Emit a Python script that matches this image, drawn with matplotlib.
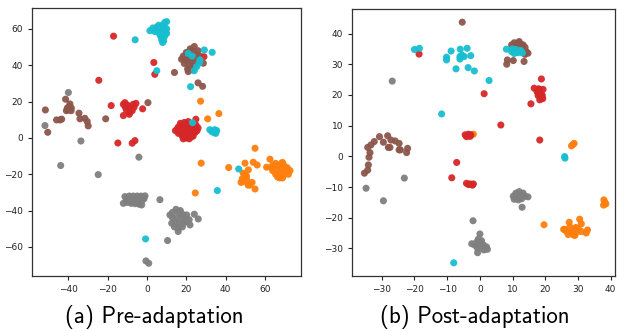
import matplotlib
matplotlib.use("Agg")
import matplotlib.pyplot as plt

# ---------------- Panel (a) Pre-adaptation ----------------
cyan_a = [(1.5,59),(3,60.5),(4,58.5),(5,61),(6,60),(6,62),(7,58.5),(8,60),(8,62),(9,63.5),(10,64),
          (9.5,58),(7,56),(8,55),(8.5,53.5),(8,52.5),(7.5,54),(9,56),(10,60),(10,57.5),(6.5,57),
          (5,59.5),(9,61),(7,60),
          (-6,54),(5,37),(21,46.5),(23,45),(25.3,39.2),(24.1,37),(29.2,48.4),(33.2,47.1),(26.6,41.1),
          (27,43),(22.2,28.2),(23.2,8.4),(32,4.5),(33,3.5),(34,3),(35,2.5),(35.5,4),(34.5,4.5),
          (46.7,-17.1),(35.8,-29),(-0.7,-55.6)]
red_a = [(-17,56),(3.5,41.5),(4,35),(29,44.7),(-24.5,31.7),(-18.2,17.8),
         (-12,18.5),(-11.2,19.4),(-10,18),(-8.7,16.3),(-7,18.5),(-5.6,19),(-8.7,14.1),(-12,12.3),
         (-9.5,17.5),(-10.5,15.5),(-7.5,15),(-6.5,17),(-9,13),(-11,17),
         (-2.2,16),(-14.8,-2.8),(-7.5,-2.9),(-6.1,-1.5),
         (14.5,4),(16,6),(16,2.5),(17,8),(17.5,4.5),(18,1),(18,6.5),(19,3),(19,8.5),(19.5,5),(20,0),
         (20,7),(20.5,2),(21,4.5),(21,9),(21.5,-0.5),(22,6),(22,2.5),(23,4),(23,7.5),(23.5,1),
         (24,5.5),(24.5,3),(25,7),(25.5,4),(26,5.5),(24.9,10.3),(18.5,-0.5),(22.5,0.5),(17,3),
         (15.5,5),(20,5.5)]
brown_a = [(14,36),(17.6,43.3),(18.5,45),(19,41),(20,47),(20.7,38),(21,44),(21.5,40),(22,46),
           (22.5,42),(23,48),(23.5,44),(24.1,50.3),(24,39.5),(25,46),(25.5,42),(26,48),(19.5,43),
           (22,49),(21,36.5),(23,37.5),(28.7,41.1),(27,45),
           (26,30.3),(28.3,28.4),
           (-41.4,21.3),(-39.2,18.7),(-40,15.4),(-41,15),(-38.6,15),(-39.5,17.2),(-40.5,16.5),
           (-38.5,16.5),(-51.7,15.4),(-50.5,3.1),(-46,9.9),(-44.3,9.9),(-43.4,10.3),(-34.6,13.6),
           (-34.1,10.5),(-31.6,10.8),(-30.4,9),(-29.9,6.6),(-21,10.5),(0.5,19.4)]
gray_a = [(-40,25),(-51.9,6.8),(-33.6,-1.7),(-4.1,-10.6),(-43.9,-15.2),(-24.8,-20.2),
          (-11.2,-32.3),(-9,-32),(-7,-32),(-5,-32),(-3,-32),(-1,-31.9),(-12,-36),(-10,-35.5),
          (-8,-36),(-6,-36.2),(-4,-36.5),(-2.7,-36.9),(-10.5,-34),(-8.5,-34),(-6.5,-34),(-4.5,-34),
          (-2.5,-34.5),(-1.5,-33.5),
          (6.6,-34),
          (14.8,-39.3),(13,-41),(16,-41),(18,-42),(11.7,-42.4),(20.2,-42.4),(13,-44),(15,-44),
          (17.6,-44.2),(19.5,-44.5),(21.5,-45),(12.6,-47),(14.5,-46.5),(16.5,-47),(18.5,-47),
          (21.9,-47.9),(14,-49),(16,-49.5),(18,-49),(15.9,-51.5),(17,-40),(20,-46),
          (24.1,-42),(26.1,-44.6),(10.5,-56.5),(-0.5,-67.7),(0.9,-69)]
orange_a = [(27.3,20.2),(30.9,10.5),(36.6,13.4),(55,-5.7),(27.6,-13.9),(41.6,-16.3),(24.6,-30.3),
            (49.9,-13.9),(54.1,-13.4),(56.1,-14.9),(51.6,-17.6),(49.9,-20.4),(49,-24),(47.9,-24.5),
            (50.8,-23.2),(52.4,-25.9),(55,-28.1),(50,-22),(51.5,-26),(53.5,-24.5),(48.5,-22.5),
            (49,-19.4),(50.7,-21.1),(62.6,-11.7),(60.9,-16.1),
            (64,-15),(64,-18),(65.5,-14),(65.5,-20),(66,-17),(67,-15.5),(67.5,-19),(67.5,-22),
            (68.5,-14),(68.5,-17.5),(69.5,-20.5),(70,-15.5),(70.5,-18.5),(71.5,-16.5),(72,-20),
            (72.8,-18),(69,-22),(66.5,-21.5),(63.4,-16.5),(69,-13.5)]

# ---------------- Panel (b) Post-adaptation ----------------
cyan_b = [(-20,34.8),(-18.5,35.2),
          (-10.2,32.3),(-10.2,31.4),(-8.8,34.3),(-6,34.9),(-3.9,35.2),(-6.1,32.5),(-4.8,32.5),
          (-2.8,32.8),(-6.1,31.7),(-5.5,33),(-7.3,28.5),(-3.6,28.9),(-1.7,27.8),(2.8,24.7),
          (-11.7,13.8),(-8,-34.7),(25.9,-0.1),(26,-0.6),
          (8.1,34.9),(9.7,34.1),(10.5,33.5),(11.7,33.8),(12.5,34.5),(13,33.7),(10,35),(11,34.8)]
brown_b = [(-5.4,43.7),
           (9.7,36.3),(10.5,37),(11,35.5),(12,37.4),(12.5,36.5),(13.2,36.3),(11.5,36.8),(13.8,35.5),
           (14.2,34.1),(14.7,33.6),(13.8,33.2),(8.4,31.4),(8.2,30),(10.2,31.2),(13.5,30.9),
           (-35.3,-5.5),(-34.3,-4.5),(-34.1,-2.8),(-33.9,-0.3),(-33.6,1.2),(-34.3,2.9),(-33.3,3.7),
           (-32.3,4.8),(-30.7,6.4),(-29.5,4.6),(-28.2,6.7),(-28,2.9),(-27.5,2.9),(-27.2,5.3),
           (-25.9,5),(-24.7,4.2),(-24.7,2.1),(-24.3,2.1),(-22.1,2.6),(-22.4,1.2)]
red_b = [(-18.6,33.3),(1.3,20.4),(6.4,10.2),(18.3,5.3),
         (-4.1,6.4),(-3.5,7.2),(-3,6.5),(-4.5,7),(-2.8,7),
         (-7.1,-2),(-8.6,-7),
         (-4.1,-8.8),(-3.5,-9.2),(-3,-9),(-2.3,-9.4),(-2,-9),
         (18.8,25.2),(16.6,22.2),(17.5,21),(18,22),(18.3,21.6),(19.3,21.8),(18,20.5),(19,20),
         (18.5,19.3),(19.2,18.8),(18.3,18.4),(19,19.5),(17.8,19.8),(15.6,17.1)]
gray_b = [(-26.8,24.5),(-34.8,-10.4),(-29.5,-14.5),(-23.1,-7.1),(-2.1,-21),
          (0,-25.3),(-0.5,-27),(0.5,-27.5),(-2.5,-28.5),(-1.5,-29),(0,-28.3),(1,-28.8),(2,-29.5),
          (-0.7,-30),(1.2,-30.5),(2.3,-30.3),(-0.7,-31.4),(0.5,-29.5),(-1,-28),
          (10.5,-14),(10.2,-13),(11,-12),(11.5,-13.5),(12,-11.5),(12.2,-12.6),(12.8,-13.8),
          (13.2,-12),(13.8,-13),(14.7,-13.2),(11.8,-14.2),(12.9,-16.6)]
orange_b = [(-2,7.2),(28.5,3.9),(28,3.4),(28.8,4.2),
            (37.9,-14.2),(38.2,-15),(37.8,-15.9),(38.5,-15.5),(19.6,-22.3),
            (25.9,-23.8),(25.6,-23.8),(27.3,-21.5),(27.5,-23),(28,-24.5),(28.5,-24),(28.5,-25.5),
            (29.3,-23.2),(29.5,-24.8),(30,-23.5),(30.5,-20.5),(31,-22),(31,-24.5),(29,-25.8),
            (27,-25.5),(32.9,-24),(32.5,-25),(26.5,-24.5)]

captions = ["(a) Pre-adaptation", "(b) Post-adaptation"]
xticks_a = [-40, -20, 0, 20, 40, 60]
yticks_a = [-60, -40, -20, 0, 20, 40, 60]
xticks_b = [-30, -20, -10, 0, 10, 20, 30, 40]
yticks_b = [-30, -20, -10, 0, 10, 20, 30, 40]

colors = {"brown": "#8c564b", "gray": "#7f7f7f", "orange": "#ff7f0e",
          "red": "#d62728", "cyan": "#17becf"}

fig = plt.figure(figsize=(6.17, 3.31), dpi=100)
ax1 = fig.add_axes([32/617, 1-276/331, 269/617, 268/331])
ax2 = fig.add_axes([352/617, 1-276/331, 263/617, 267/331])

def draw(ax, groups):
    for name, pts in groups:
        xs = [p[0] for p in pts]
        ys = [p[1] for p in pts]
        ax.scatter(xs, ys, s=26, c=colors[name], edgecolors="none", alpha=0.95)

draw(ax1, [("brown", brown_a), ("gray", gray_a), ("orange", orange_a),
           ("red", red_a), ("cyan", cyan_a)])
draw(ax2, [("brown", brown_b), ("gray", gray_b), ("orange", orange_b),
           ("red", red_b), ("cyan", cyan_b)])

ax1.set_xlim(-58.5, 78.4)
ax1.set_ylim(-76, 71.5)
ax1.set_xticks(xticks_a)
ax1.set_yticks(yticks_a)
ax2.set_xlim(-39.1, 41.3)
ax2.set_ylim(-39, 48)
ax2.set_xticks(xticks_b)
ax2.set_yticks(yticks_b)

for ax in (ax1, ax2):
    ax.tick_params(labelsize=6.5, length=3, width=0.8, colors="#222222")
    for sp in ax.spines.values():
        sp.set_color("#333333")
        sp.set_linewidth(0.9)

fig.text(154/617, 1-317/331, captions[0], ha="center", va="center", fontsize=16.5,
         family=["cmss10", "DejaVu Sans"])
fig.text(475/617, 1-317/331, captions[1], ha="center", va="center", fontsize=16.5,
         family=["cmss10", "DejaVu Sans"])

fig.savefig("out.png", dpi=100)
